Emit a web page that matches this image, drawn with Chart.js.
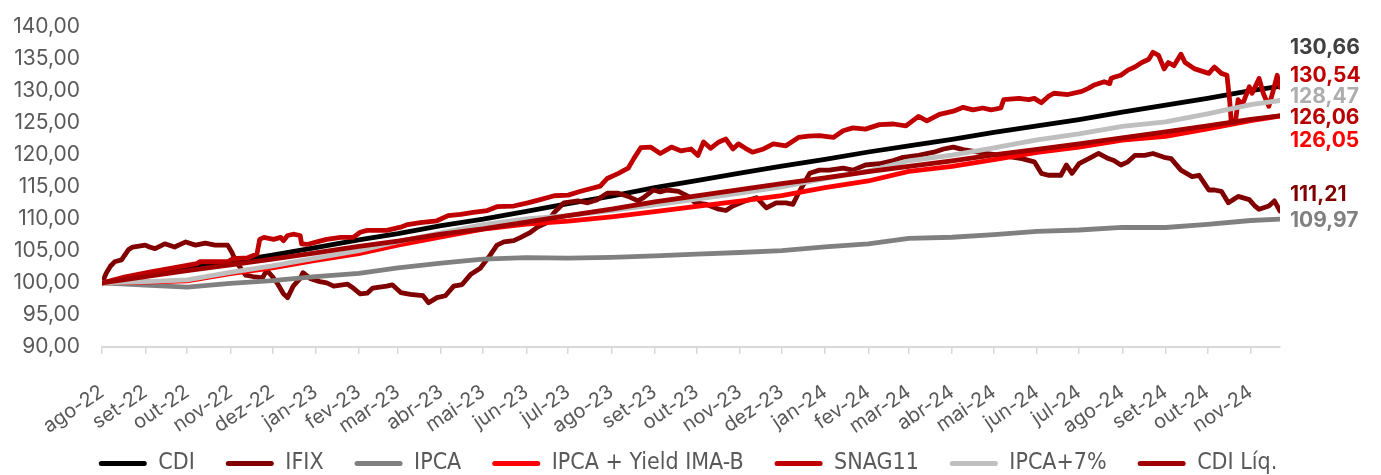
<!DOCTYPE html>
<html>
<head>
<meta charset="utf-8">
<script src="https://cdn.jsdelivr.net/npm/chart.js@4"></script>
<style>
  html, body { margin: 0; padding: 0; background: #fff; }
</style>
</head>
<body>
<canvas id="grafico" width="1381" height="475"></canvas>
<script>
// dias contados a partir de 01/08/2022 (inicio de cada mes + ultimo dia da serie)
const diasMes = [0, 31, 61, 92, 122, 153, 184, 212, 243, 273, 304, 334, 365, 396, 426, 457, 487, 518, 549, 578, 609, 639, 670, 700, 731, 762, 792, 823, 844];

const rotulosX = ['ago-22', 'set-22', 'out-22', 'nov-22', 'dez-22', 'jan-23', 'fev-23', 'mar-23', 'abr-23', 'mai-23', 'jun-23', 'jul-23', 'ago-23', 'set-23', 'out-23', 'nov-23', 'dez-23', 'jan-24', 'fev-24', 'mar-24', 'abr-24', 'mai-24', 'jun-24', 'jul-24', 'ago-24', 'set-24', 'out-24', 'nov-24'];

// series suaves, um valor por data de diasMes
const cdi = [100, 101.17, 102.25, 103.29, 104.35, 105.52, 106.70, 107.68, 108.94, 109.94, 111.17, 112.36, 113.56, 114.86, 115.97, 117.13, 118.21, 119.27, 120.43, 121.39, 122.40, 123.49, 124.51, 125.50, 126.64, 127.74, 128.81, 130.01, 130.66];
const ipca = [100, 99.64, 99.35, 99.94, 100.35, 100.97, 101.50, 102.35, 103.08, 103.71, 103.95, 103.87, 103.99, 104.23, 104.50, 104.75, 105.05, 105.64, 106.08, 106.96, 107.13, 107.54, 108.03, 108.26, 108.67, 108.65, 109.13, 109.74, 109.97];
const ipcaYield = [100, 100.14, 100.33, 101.44, 102.35, 103.50, 104.56, 105.91, 107.20, 108.38, 109.18, 109.63, 110.30, 111.11, 111.94, 112.77, 113.64, 114.86, 115.91, 117.42, 118.20, 119.23, 120.37, 121.21, 122.28, 122.87, 124.02, 125.34, 126.05];
const ipca7 = [100, 100.21, 100.48, 101.66, 102.65, 103.88, 105.02, 106.45, 107.83, 109.09, 109.98, 110.50, 111.27, 112.17, 113.09, 114.01, 114.97, 116.29, 117.44, 119.06, 119.93, 121.06, 122.32, 123.26, 124.44, 125.13, 126.39, 127.83, 128.47];
const cdiLiq = [100, 100.99, 101.91, 102.80, 103.70, 104.69, 105.70, 106.53, 107.60, 108.45, 109.49, 110.51, 111.53, 112.63, 113.57, 114.56, 115.48, 116.38, 117.37, 118.18, 119.04, 119.97, 120.83, 121.68, 122.64, 123.58, 124.49, 125.51, 126.06];

// series volateis: [dia, valor]
const ifix = [[0,100],[3,101.5],[6,102.6],[9,103.3],[14,103.6],[19,105.2],[22,105.6],[31,105.9],[34,105.6],[38,105.35],[45,106.1],[52,105.6],[60,106.4],[67,105.9],[74,106.2],[81,105.9],[90,105.9],[93,104.8],[95,103.8],[97,103.0],[103,101.2],[108,101.0],[115,100.8],[118,102.0],[122,101.0],[126,99.8],[130,98.3],[133,97.7],[137,99.5],[142,100.7],[144,101.6],[149,100.7],[156,100.2],[161,100.0],[166,99.5],[176,99.8],[180,99.2],[185,98.3],[190,98.4],[194,99.2],[204,99.5],[208,99.7],[214,98.5],[221,98.2],[230,98.0],[234,96.9],[240,97.7],[246,98.0],[252,99.5],[258,99.75],[264,101.3],[271,102.3],[278,104.3],[283,105.9],[288,106.4],[295,106.6],[300,107.1],[307,107.9],[312,108.7],[319,109.4],[324,111.0],[331,112.5],[341,112.8],[348,112.5],[355,113.0],[362,114.0],[370,114.0],[377,113.5],[384,112.8],[388,113.3],[395,114.5],[400,114.2],[405,114.5],[413,114.3],[420,113.5],[425,112.5],[433,112.25],[442,111.5],[447,111.3],[452,112.0],[461,112.8],[469,113.3],[476,111.7],[483,112.5],[490,112.5],[495,112.25],[499,114.0],[507,117.1],[514,117.6],[521,117.6],[531,117.9],[538,117.6],[547,118.4],[557,118.6],[567,119.1],[574,119.6],[585,119.9],[596,120.4],[603,120.9],[610,121.2],[617,120.8],[626,120.5],[633,120.2],[644,119.9],[659,119.4],[668,118.9],[673,117.1],[678,116.8],[687,116.8],[691,118.4],[695,117.1],[700,118.6],[707,119.4],[714,120.2],[721,119.4],[725,119.1],[730,118.4],[735,118.9],[740,119.9],[747,119.9],[753,120.2],[761,119.6],[766,119.4],[773,117.6],[781,116.6],[786,116.8],[789,115.8],[793,114.5],[797,114.5],[802,114.3],[807,112.5],[814,113.5],[822,113.0],[826,112.0],[829,111.5],[836,112.0],[840,112.8],[844,111.21]];

const snag11 = [[0,100],[16,100.9],[34,101.7],[52,102.4],[68,103.0],[70,103.3],[90,103.3],[94,103.8],[104,103.9],[111,104.5],[113,106.8],[116,107.1],[123,106.8],[128,107.1],[130,106.6],[133,107.4],[137,107.6],[142,107.4],[143,106.1],[147,106.0],[154,106.4],[161,106.8],[171,107.1],[180,107.1],[185,107.9],[190,108.2],[204,108.2],[214,108.7],[219,109.1],[228,109.4],[240,109.7],[248,110.5],[257,110.7],[266,111.0],[276,111.3],[283,111.9],[295,112.0],[305,112.5],[314,113.0],[324,113.6],[334,113.7],[343,114.3],[357,115.1],[362,116.3],[370,117.1],[377,117.9],[381,119.4],[386,121.1],[393,121.2],[400,120.2],[408,121.2],[415,120.6],[422,120.9],[427,119.9],[431,122.0],[436,121.0],[442,122.0],[447,122.45],[452,120.9],[456,121.7],[461,121.0],[466,120.4],[474,120.9],[481,121.7],[490,121.4],[499,122.7],[506,122.9],[514,123.0],[524,122.7],[531,123.75],[538,124.2],[547,124.0],[557,124.7],[567,124.8],[576,124.5],[585,126.0],[591,125.3],[600,126.3],[610,126.8],[617,127.4],[624,127.0],[631,127.3],[637,127.0],[644,127.3],[646,128.6],[657,128.8],[664,128.6],[668,128.8],[673,128.1],[678,129.1],[682,129.6],[692,129.4],[702,129.9],[707,130.4],[711,130.9],[718,131.4],[722,131.1],[723,131.9],[725,132.1],[730,132.4],[735,133.2],[740,133.7],[745,134.4],[750,134.9],[753,136.0],[757,135.5],[761,133.4],[764,134.4],[768,133.9],[773,135.7],[776,134.4],[783,133.4],[793,132.7],[797,133.7],[802,132.7],[806,132.4],[808,128.3],[809,125.3],[812,125.0],[814,128.6],[817,127.8],[822,130.6],[824,129.6],[829,131.9],[832,129.6],[836,127.55],[839,129.9],[842,132.4],[844,130.54]];

const fmt = (v) => v.toFixed(2).replace('.', ',');
const suave = (vals) => vals.map((v, i) => ({ x: diasMes[i], y: v }));
const pares = (arr) => arr.map(p => ({ x: p[0], y: p[1] }));

const fonteNarrow = "'Liberation Sans Narrow', 'DejaVu Sans Condensed', 'Roboto Condensed', Roboto, sans-serif";
const fonteEixo = "Inter, 'Open Sans', sans-serif";

// nivel (em unidades do eixo y) onde fica cada rotulo final, na ordem das series
const alturaRotulo = [136.7, 113.7, 109.7, 122.2, 132.3, 129.0, 125.8];

const series = [
    { label: 'CDI', data: suave(cdi), cor: '#000000', corRotulo: '#404040' },
    { label: 'IFIX', data: pares(ifix), cor: '#800000', corRotulo: '#800000' },
    { label: 'IPCA', data: suave(ipca), cor: '#808080', corRotulo: '#808080' },
    { label: 'IPCA + Yield IMA-B', data: suave(ipcaYield), cor: '#FF0000', corRotulo: '#FF0000' },
    { label: 'SNAG11', data: pares(snag11), cor: '#C00000', corRotulo: '#C00000' },
    { label: 'IPCA+7%', data: suave(ipca7), cor: '#BFBFBF', corRotulo: '#ADADAD' },
    { label: 'CDI Líq.', data: suave(cdiLiq), cor: '#A00000', corRotulo: '#B80000' }
];

const rotulosFinais = {
    id: 'rotulosFinais',
    afterLayout(chart) {
        // legenda centrada na largura toda e um pouco acima, como no original
        chart.legend.left += 48;
        chart.legend.right += 48;
        chart.legend.top -= 34;
    },
    afterDatasetsDraw(chart) {
        const { ctx, chartArea, scales: { y } } = chart;
        ctx.save();
        ctx.font = "bold 21px " + fonteEixo;
        ctx.textAlign = 'left';
        ctx.textBaseline = 'middle';
        chart.data.datasets.forEach((ds, i) => {
            const ultimo = ds.data[ds.data.length - 1].y;
            ctx.fillStyle = ds.corRotulo;
            ctx.fillText(fmt(ultimo), chartArea.right + 10, y.getPixelForValue(alturaRotulo[i]));
        });
        ctx.restore();
    }
};

new Chart(document.getElementById('grafico'), {
    type: 'line',
    data: {
        datasets: series.map((s, i) => ({
            label: s.label,
            data: s.data,
            corRotulo: s.corRotulo,
            borderColor: s.cor,
            backgroundColor: s.cor,
            borderWidth: 4.8,
            borderJoinStyle: 'round',
            borderCapStyle: 'round',
            pointRadius: 0,
            tension: 0,
            order: series.length - i
        }))
    },
    options: {
        responsive: false,
        animation: false,
        devicePixelRatio: 1,
        layout: { padding: { top: 20, right: 101, left: 0, bottom: 0 } },
        scales: {
            x: {
                type: 'linear',
                min: 0,
                max: diasMes[diasMes.length - 1],
                afterBuildTicks: (s) => { s.ticks = rotulosX.map((r, i) => ({ value: diasMes[i] })); },
                afterFit: (s) => { s.height = 475 - 347 - s.chart.legend.height; },
                ticks: {
                    autoSkip: false,
                    minRotation: 34,
                    maxRotation: 34,
                    padding: 26,
                    color: '#595959',
                    font: { family: fonteEixo, size: 20 },
                    callback: (v, i) => rotulosX[i]
                },
                grid: { drawOnChartArea: false, drawTicks: true, tickLength: 7, color: '#D9D9D9', lineWidth: 1.5 },
                border: { color: '#D9D9D9', width: 2 }
            },
            y: {
                min: 90,
                max: 140,
                afterFit: (s) => { s.width = 102; },
                ticks: {
                    stepSize: 5,
                    padding: 14,
                    color: '#595959',
                    font: { family: fonteEixo, size: 21 },
                    callback: (v) => fmt(v)
                },
                grid: { display: false },
                border: { display: false }
            }
        },
        plugins: {
            legend: {
                position: 'bottom',
                maxHeight: 20,
                labels: {
                    boxWidth: 48,
                    boxHeight: 5,
                    useBorderRadius: true,
                    borderRadius: 2.5,
                    padding: 31,
                    color: '#595959',
                    font: { family: fonteNarrow, size: 23 },
                    generateLabels: (chart) => Chart.defaults.plugins.legend.labels.generateLabels(chart)
                        .map(l => ({ ...l, lineWidth: 0, fillStyle: l.strokeStyle })),
                    sort: (a, b) => a.datasetIndex - b.datasetIndex
                }
            },
            tooltip: { enabled: false }
        }
    },
    plugins: [rotulosFinais]
});
</script>
</body>
</html>
